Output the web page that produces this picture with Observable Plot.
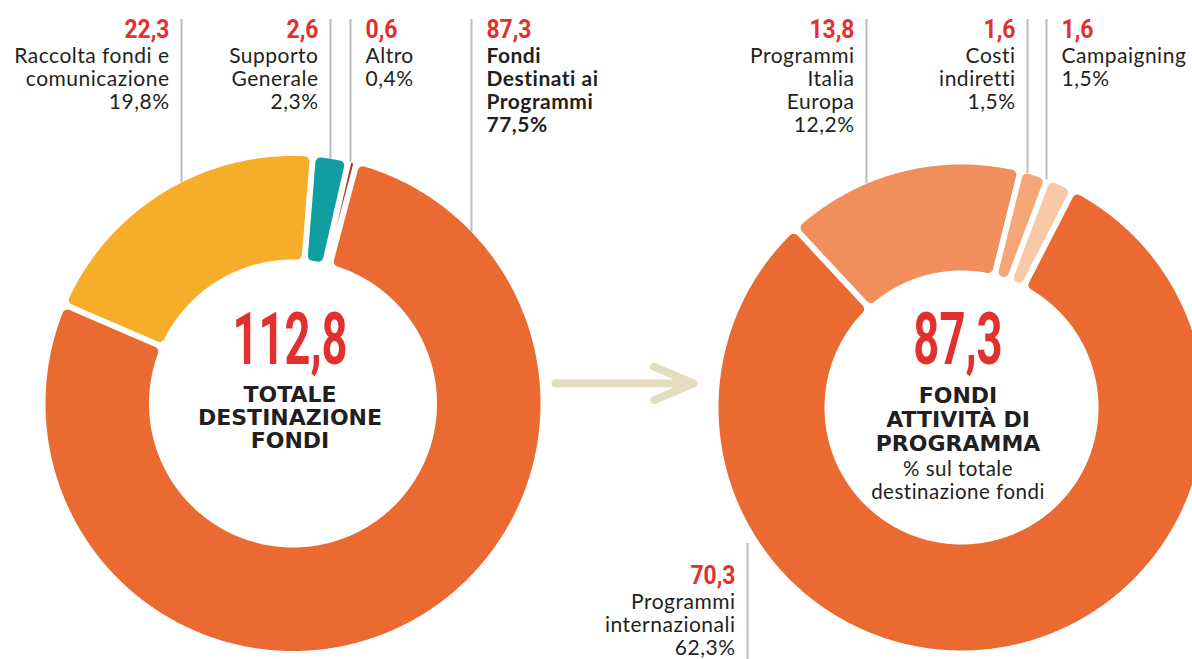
<!DOCTYPE html>
<html><head><meta charset="utf-8">
<script src="https://cdn.jsdelivr.net/npm/d3@7"></script>
<script src="https://cdn.jsdelivr.net/npm/@observablehq/plot@0.6"></script>
<style>
html,body{margin:0;padding:0;background:#fff;}
#chart{width:1192px;height:659px;overflow:hidden}
#chart svg g[font-family="Lato"] text{letter-spacing:0.5px}
</style></head><body><div id="chart"></div>
<script>
// ---- DATA ----
const leftCategories = ["Fondi Destinati ai Programmi", "Raccolta fondi e comunicazione", "Supporto Generale", "Altro"];
const leftLabels = ["Fondi\nDestinati ai\nProgrammi", "Raccolta fondi e\ncomunicazione", "Supporto\nGenerale", "Altro"];
const leftValues = [87.3, 22.3, 2.6, 0.6];
const leftPercents = ["77,5%", "19,8%", "2,3%", "0,4%"];
const leftColors = ["#EA6A32", "#F6AE2A", "#109EA0", "#A3362C"];

const rightCategories = ["Programmi internazionali", "Programmi Italia Europa", "Costi indiretti", "Campaigning"];
const rightLabels = ["Programmi\ninternazionali", "Programmi\nItalia\nEuropa", "Costi\nindiretti", "Campaigning"];
const rightValues = [70.3, 13.8, 1.6, 1.6];
const rightPercents = ["62,3%", "12,2%", "1,5%", "1,5%"];
const rightColors = ["#EA6A32", "#F08E5C", "#F4A676", "#F9C8A6"];

const leftTitle = ["TOTALE", "DESTINAZIONE", "FONDI"];
const rightTitle = ["FONDI", "ATTIVITÀ DI", "PROGRAMMA"];
const rightSubtitle = ["% sul totale", "destinazione fondi"];

// ---- LAYOUT ----
const W = 1192, H = 659;
const RED = "#E2302F", INK = "#231F20", GRAY = "#BDBDBD";
const GAP = 6, CORNER = 5;
const leftLayout = [
  {lx: 471, side: "right", pos: "top", bold: true},
  {lx: 181, side: "left", pos: "top"},
  {lx: 330, side: "left", pos: "top"},
  {lx: 350, side: "right", pos: "top"}
];
const rightLayout = [
  {lx: 747, side: "left", pos: "bottom"},
  {lx: 866, side: "left", pos: "top"},
  {lx: 1027, side: "left", pos: "top"},
  {lx: 1046, side: "right", pos: "top"}
];
const donuts = [
  {cx: 292.5, cy: 403, R: 247.5, r: 144, start: 14.8, values: leftValues, colors: leftColors,
   labels: leftLabels, percents: leftPercents, layout: leftLayout, title: leftTitle, sub: [], tx: 289.5},
  {cx: 961, cy: 407, R: 243, r: 137, start: 27.2, values: rightValues, colors: rightColors,
   labels: rightLabels, percents: rightPercents, layout: rightLayout, title: rightTitle, sub: rightSubtitle, tx: 957.5}
];

const fmt = v => d3.format(".1f")(v).replace(".", ",");
const rad = Math.PI / 180;

function slicePolygon(d, a0, a1, c) {
  const dd = GAP / 2 + c;
  const Ro = d.R - c, Ri = d.r + c;
  const half = (a1 - a0) * rad / 2;
  const mid = (a0 + a1) / 2 * rad;
  const pt = (rho, ang) => ({x: d.cx + rho * Math.sin(ang), y: d.cy - rho * Math.cos(ang)});
  const pts = [];
  const ho = half - Math.asin(Math.min(1, dd / Ro));
  if (ho <= 0) return pts;
  const n = Math.max(2, Math.ceil(ho * 2 / rad / 0.5));
  for (let i = 0; i <= n; i++) pts.push(pt(Ro, mid - ho + 2 * ho * i / n));
  const hi = half - Math.asin(Math.min(1, dd / Ri));
  if (hi > 0) {
    const m = Math.max(2, Math.ceil(hi * 2 / rad / 0.5));
    for (let i = 0; i <= m; i++) pts.push(pt(Ri, mid + hi - 2 * hi * i / m));
  } else {
    pts.push(pt(dd / Math.sin(half), mid));
  }
  return pts;
}

const marks = [];
const ruleData = [], numData = [], lineData = [], centerData = [];

donuts.forEach((d, k) => {
  const total = d3.sum(d.values);
  let a = d.start;
  d.values.forEach((v, i) => {
    const span = v / total * 360;
    const thin = span < 3;
    const c = thin ? 0 : CORNER;
    const poly = slicePolygon(d, a, a + span, c);
    marks.push(Plot.line(poly, {
      x: "x", y: "y", curve: "linear-closed",
      fill: d.colors[i], stroke: thin ? "none" : d.colors[i],
      strokeWidth: 2 * c, strokeLinejoin: "round"
    }));
    a += span;
    // labels
    const L = d.layout[i];
    const dx = Math.abs(L.lx - d.cx);
    const edge = Math.sqrt(d.R * d.R - dx * dx);
    const top = L.pos === "top";
    ruleData.push({x: L.lx, y1: top ? 19 : 543, y2: top ? d.cy - edge : H});
    const nb = top ? 37 : 583;
    const tx = L.side === "left" ? L.lx - 12 : L.lx + 15;
    const anchor = L.side === "left" ? "end" : "start";
    numData.push({x: tx, y: nb, text: fmt(v), anchor});
    const lines = d.labels[i].split("\n").concat([d.percents[i]]);
    lines.forEach((t, j) => lineData.push({x: tx, y: nb + 25 + j * 23, text: t, anchor, bold: !!L.bold}));
  });
  centerData.push({x: d.tx, y: 363, text: fmt(total), big: true});
  d.title.forEach((t, j) => centerData.push({x: d.tx, y: (k === 0 ? 401 : 402) + j * (k === 0 ? 23 : 24), text: t, bold: true}));
  d.sub.forEach((t, j) => centerData.push({x: d.tx, y: 475 + j * 23, text: t, bold: false}));
});

const arrowData = [{x1: 555, x2: 693, y: 383}];

const textMarks = [];
for (const anchor of ["start", "end"]) {
  textMarks.push(
    Plot.text(numData.filter(d => d.anchor === anchor), {x: "x", y: "y", text: "text", textAnchor: anchor, lineAnchor: "bottom",
      fill: RED, fontFamily: "Roboto", fontWeight: "bold", fontSize: 25}),
    Plot.text(lineData.filter(d => d.anchor === anchor && !d.bold), {x: "x", y: "y", text: "text", textAnchor: anchor, lineAnchor: "bottom",
      fill: INK, fontFamily: "Lato", fontSize: 21}),
    Plot.text(lineData.filter(d => d.anchor === anchor && d.bold), {x: "x", y: "y", text: "text", textAnchor: anchor, lineAnchor: "bottom",
      fill: INK, fontFamily: "Lato", fontWeight: "bold", fontSize: 21})
  );
}

marks.push(
  Plot.ruleX(ruleData, {x: "x", y1: "y1", y2: "y2", stroke: GRAY, strokeWidth: 2}),
  Plot.arrow(arrowData, {x1: "x1", x2: "x2", y1: "y", y2: "y", stroke: "#E4DCC1", strokeWidth: 8,
    headAngle: 46, headLength: 8, strokeLinecap: "round", strokeLinejoin: "round"}),
  ...textMarks,
  Plot.text(centerData.filter(d => d.big), {x: "x", y: "y", text: "text", lineAnchor: "bottom",
    fill: RED, fontFamily: "Roboto", fontWeight: "bold", fontSize: 72}),
  Plot.text(centerData.filter(d => d.bold), {x: "x", y: "y", text: "text", lineAnchor: "bottom",
    fill: INK, fontFamily: "DejaVu Sans", fontWeight: "bold", fontSize: 22}),
  Plot.text(centerData.filter(d => !d.big && !d.bold), {x: "x", y: "y", text: "text", lineAnchor: "bottom",
    fill: INK, fontFamily: "Lato", fontSize: 20.5})
);

const chart = Plot.plot({
  width: W, height: H, margin: 0,
  x: {domain: [0, W], range: [0, W], axis: null},
  y: {domain: [0, H], range: [0, H], axis: null},
  style: {background: "#fff", overflow: "hidden"},
  marks
});
document.getElementById("chart").appendChild(chart);

// condense the red numbers (the reference uses a condensed face)
d3.select(chart).selectAll("text").each(function() {
  const t = this.textContent;
  if (!/^\d+,\d$/.test(t)) return;
  const fs = parseFloat(getComputedStyle(this).fontSize);
  const digits = t.replace(",", "").length;
  const big = fs > 40;
  const len = big ? digits * 0.358 * fs + 0.166 * fs : digits * 0.52 * fs + 0.24 * fs;
  this.setAttribute("textLength", len.toFixed(1));
  this.setAttribute("lengthAdjust", "spacingAndGlyphs");
});
</script>
</body></html>
